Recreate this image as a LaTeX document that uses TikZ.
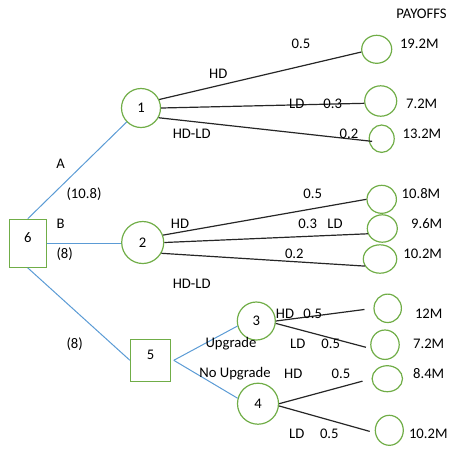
\documentclass[tikz,border=0pt]{standalone}
\usepackage{fontspec}
\setmainfont{Carlito}
\usepackage{tikz}
\usetikzlibrary{shapes.geometric}
\definecolor{nodegreen}{HTML}{70AD47}
\definecolor{branchblue}{HTML}{5B9BD5}

\begin{document}
\begin{tikzpicture}[x=0.75pt, y=-0.75pt, font=\fontsize{11}{13}\selectfont,
  decision/.style 2 args={rectangle, draw=nodegreen, line width=0.9pt, inner sep=0pt,
    minimum width=#1*0.75pt, minimum height=#2*0.75pt, text depth=9pt},
  chance/.style={circle, draw=nodegreen, line width=0.9pt, inner sep=0pt, minimum size=#1*0.75pt},
  payoff/.style 2 args={ellipse, draw=nodegreen, line width=0.9pt, inner sep=0pt,
    minimum width=#1*1.5pt, minimum height=#2*1.5pt},
  choice/.style={branchblue, line width=0.75pt},
  prob/.style={black!85, line width=0.9pt},
  tag/.style={inner sep=1pt}]
  \useasboundingbox (0,0) rectangle (463,451);
  % decision and chance nodes
  \node[decision={37}{48}] (b6) at (27.8,243.3) {6};
  \node[decision={40}{42}] (b5) at (150.5,360.3) {5};
  \node[chance=39] (c1) at (141,108) {1};
  \node[chance=42] (c2) at (142.7,242.5) {2};
  \node[chance=38] (c3) at (256.3,321) {3};
  \node[chance=41] (c4) at (258,403.7) {4};
  % end points
  \node[payoff={15}{14}] (t1) at (376.7,49.3) {};
  \node[payoff={16}{15.2}] (t2) at (380.7,101) {};
  \node[payoff={12.5}{13.7}] (t3) at (381.7,138.7) {};
  \node[payoff={14.7}{14}] (t4) at (381.7,199.3) {};
  \node[payoff={15}{13.7}] (t5) at (382.3,228.5) {};
  \node[payoff={16.7}{14.2}] (t6) at (380,259) {};
  \node[payoff={13.7}{14.2}] (t7) at (387.7,308.3) {};
  \node[payoff={14.2}{14.7}] (t8) at (385,344.7) {};
  \node[payoff={15.2}{13}] (t9) at (387.3,378.7) {};
  \node[payoff={14}{15}] (t10) at (389.3,430.3) {};
  % payoffs
  \node[tag] (pay) at (421.5,14) {PAYOFFS};
  \node[tag] (v1) at (419.3,44) {19.2M};
  \node[tag] (v2) at (421.7,104) {7.2M};
  \node[tag] (v3) at (422,134) {13.2M};
  \node[tag] (v4) at (421,193.3) {10.8M};
  \node[tag] (v5) at (426.7,223.5) {9.6M};
  \node[tag] (v6) at (422.7,253.3) {10.2M};
  \node[tag] (v7) at (428.7,313.3) {12M};
  \node[tag] (v8) at (428.7,343.3) {7.2M};
  \node[tag] (v9) at (428.7,373.3) {8.4M};
  \node[tag] (v10) at (428.3,433.3) {10.2M};
  % decision branches
  \draw[choice] (b6.north) -- (c1);
  \draw[choice] (b6.east) -- (b6.east -| c2.west);
  \draw[choice] (b6.south) -- (b5.west);
  \draw[choice] ([xshift=2pt]b5.east) -- (c3.195);
  \draw[choice] ([xshift=2pt]b5.east) -- (c4.165);
  % chance branches
  \draw[prob] (c1.25) -- (t1.190);
  \draw[prob] (c1.east) -- (t2.188);
  \draw[prob, shorten >=-2.5pt] (c1.-29) -- (t3.190);
  \draw[prob] (c2.20) -- (t4.180);
  \draw[prob] (c2.east) -- (t5.200);
  \draw[prob] (c2.-30) -- (t6.205);
  \draw[prob, shorten >=6.75pt] (c3.east) -- (t7.west);
  \draw[prob, shorten >=3.7pt] (c3.-7) -- (t8.195);
  \draw[prob, shorten >=7pt] (c4.east) -- (t9.west);
  \draw[prob, shorten >=4pt] (c4.-6) -- (t10.190);
  % branch labels
  \node[tag] (lA) at (60.7,164) {A};
  \node[tag] (costA) at (84,194) {(10.8)};
  \node[tag] (lB) at (60.7,224) {B};
  \node[tag] (costB) at (64.7,254) {(8)};
  \node[tag] (costC) at (74.7,344) {(8)};
  \node[tag] (up) at (231,343.3) {Upgrade};
  \node[tag] (noup) at (235,373.3) {No Upgrade};
  \node[tag] (hd1) at (218.3,73.3) {HD};
  \node[tag] (p11) at (301,43.3) {0.5};
  \node[tag] (ld1) at (296.7,104) {LD};
  \node[tag] (p12) at (332.7,104) {0.3};
  \node[tag] (hl1) at (191.7,133.3) {HD-LD};
  \node[tag] (p13) at (349,134) {0.2};
  \node[tag] (hd2) at (180,223.3) {HD};
  \node[tag] (p21) at (312.7,193.3) {0.5};
  \node[tag] (p22) at (307.7,223.3) {0.3};
  \node[tag] (ld2) at (335,223.3) {LD};
  \node[tag] (p23) at (294.3,253.3) {0.2};
  \node[tag] (hl2) at (191.7,283.3) {HD-LD};
  \node[tag] (hd3) at (285,313.3) {HD};
  \node[tag] (p31) at (312.7,313.3) {0.5};
  \node[tag] (ld3) at (297.7,343.3) {LD};
  \node[tag] (p32) at (330.7,343.3) {0.5};
  \node[tag] (hd4) at (293.3,373.3) {HD};
  \node[tag] (p41) at (341,373.3) {0.5};
  \node[tag] (ld4) at (296.7,433.3) {LD};
  \node[tag] (p42) at (329.3,433.3) {0.5};
\end{tikzpicture}
\end{document}
